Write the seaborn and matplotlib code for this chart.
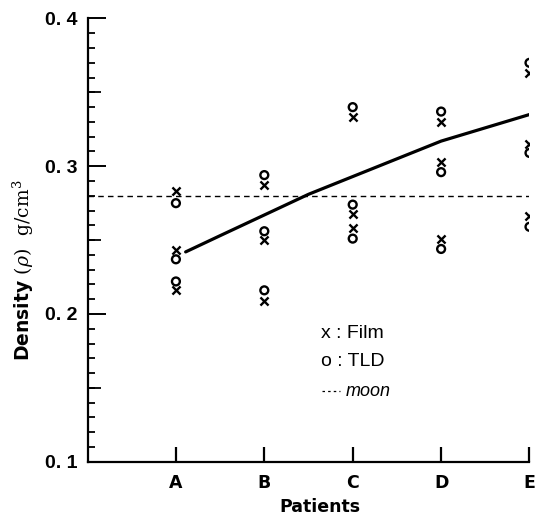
import numpy as np
import pandas as pd
import matplotlib
matplotlib.use("Agg")
import matplotlib.pyplot as plt
import seaborn as sns
from matplotlib.ticker import MultipleLocator, FixedLocator, FixedFormatter
from matplotlib.lines import Line2D

# ---------------- data ----------------
patients = ["A", "B", "C", "D", "E"]

film_A = [0.283, 0.243, 0.216]
film_B = [0.287, 0.250, 0.209]
film_C = [0.333, 0.268, 0.258]
film_D = [0.330, 0.303, 0.251]
film_E = [0.363, 0.315, 0.266]

tld_A = [0.275, 0.237, 0.222]
tld_B = [0.294, 0.256, 0.216]
tld_C = [0.340, 0.274, 0.251]
tld_D = [0.337, 0.296, 0.244]
tld_E = [0.370, 0.309, 0.259]

curve_x = [1.11, 1.5, 2.0, 2.5, 3.0, 3.5, 4.0, 4.5, 5.0]
curve_y = [0.242, 0.253, 0.267, 0.281, 0.293, 0.305, 0.317, 0.326, 0.335]

moon_x = [0, 5]
moon_density = 0.28

y_ticks = [0.1, 0.2, 0.3, 0.4]
y_tick_labels = ["0. 1", "0. 2", "0. 3", "0. 4"]

# ---------------- tables ----------------
film_groups = [film_A, film_B, film_C, film_D, film_E]
tld_groups = [tld_A, tld_B, tld_C, tld_D, tld_E]
rows = []
for i, p in enumerate(patients):
    for v in film_groups[i]:
        rows.append({"pos": i + 1, "patient": p, "kind": "Film", "density": v})
    for v in tld_groups[i]:
        rows.append({"pos": i + 1, "patient": p, "kind": "TLD", "density": v})
df = pd.DataFrame(rows)
curve_df = pd.DataFrame({"x": curve_x, "y": curve_y})
moon_df = pd.DataFrame({"x": moon_x, "y": [moon_density] * len(moon_x)})

# ---------------- figure ----------------
sns.set_theme(style="ticks")
plt.rcParams["font.family"] = ["Liberation Sans", "DejaVu Sans"]
plt.rcParams["mathtext.fontset"] = "dejavuserif"
plt.rcParams["text.color"] = "black"
plt.rcParams["axes.labelcolor"] = "black"
plt.rcParams["xtick.color"] = "black"
plt.rcParams["ytick.color"] = "black"

fig = plt.figure(figsize=(5.47, 5.18), dpi=100)
ax = fig.add_axes([0.16, 0.1087, 0.808, 0.8556])

sns.lineplot(data=moon_df, x="x", y="y", ax=ax, color="black", lw=1.0,
             linestyle=(0, (4, 3)))
sns.lineplot(data=curve_df, x="x", y="y", ax=ax, color="black", lw=2.3)

film_df = df[df["kind"] == "Film"]
tld_df = df[df["kind"] == "TLD"]
sns.scatterplot(data=film_df, x="pos", y="density", ax=ax, marker="x",
                color="black", s=34, linewidth=1.7, zorder=5)
sns.scatterplot(data=tld_df, x="pos", y="density", ax=ax, marker="o",
                facecolor="none", edgecolor="black", s=32, linewidth=1.7, zorder=5)

ax.set_xlim(0, 5)
ax.set_ylim(0.1, 0.4)

for s in ["top", "right"]:
    ax.spines[s].set_visible(False)
for s in ["left", "bottom"]:
    ax.spines[s].set_linewidth(1.6)
    ax.spines[s].set_color("black")

# x ticks
ax.xaxis.set_major_locator(FixedLocator([1, 2, 3, 4, 5]))
ax.xaxis.set_major_formatter(FixedFormatter(patients))
ax.tick_params(axis="x", direction="in", length=11, width=1.6, pad=9,
               labelsize=12.5, colors="black")
for t in ax.get_xticklabels():
    t.set_fontweight("bold")
    t.set_fontfamily("DejaVu Sans")

# y ticks
ax.yaxis.set_major_locator(FixedLocator(y_ticks))
ax.yaxis.set_major_formatter(FixedFormatter(y_tick_labels))
ax.yaxis.set_minor_locator(MultipleLocator(0.01))
ax.tick_params(axis="y", which="major", direction="in", length=13, width=1.4,
               pad=7.5, labelsize=14, colors="black")
ax.tick_params(axis="y", which="minor", direction="in", length=5, width=1.3,
               colors="black")
for t in ax.get_yticklabels():
    t.set_fontweight("bold")
ax.tick_params(axis="x", which="minor", bottom=False)

# medium ticks at 0.05 steps
sec = ax.secondary_yaxis("left")
sec.set_yticks([0.15, 0.25, 0.35])
sec.set_yticklabels([])
sec.tick_params(direction="in", length=9, width=1.3, colors="black")
sec.spines["left"].set_visible(False)
sec.yaxis.set_minor_locator(plt.NullLocator())

ax.set_xlabel("Patients", fontsize=12.5, fontweight="bold",
              fontfamily="DejaVu Sans", color="black")
ax.xaxis.set_label_coords(0.526, -0.083)
ax.set_ylabel(r"Density $(\rho)$  $\mathrm{g/cm^3}$", fontsize=13.5,
              fontweight="bold", fontfamily="DejaVu Sans", color="black")
ax.yaxis.set_label_coords(-0.117, 0.433)

# legend (as text)
W, H = 547.0, 518.0
fig.text(321 / W, 1 - 333 / H, "x : Film", fontsize=14, va="center",
         ha="left", color="black")
fig.text(321 / W, 1 - 362 / H, "o : TLD", fontsize=14, va="center",
         ha="left", color="black")
fig.add_artist(Line2D([322 / W, 340 / W], [1 - 391 / H, 1 - 391 / H],
                      transform=fig.transFigure, color="black", lw=0.9,
                      linestyle=(0, (2, 2.5))))
fig.text(346 / W, 1 - 391 / H, "moon", fontsize=13, style="italic",
         va="center", ha="left", color="black")

fig.savefig("out.png", dpi=100, facecolor="white")
